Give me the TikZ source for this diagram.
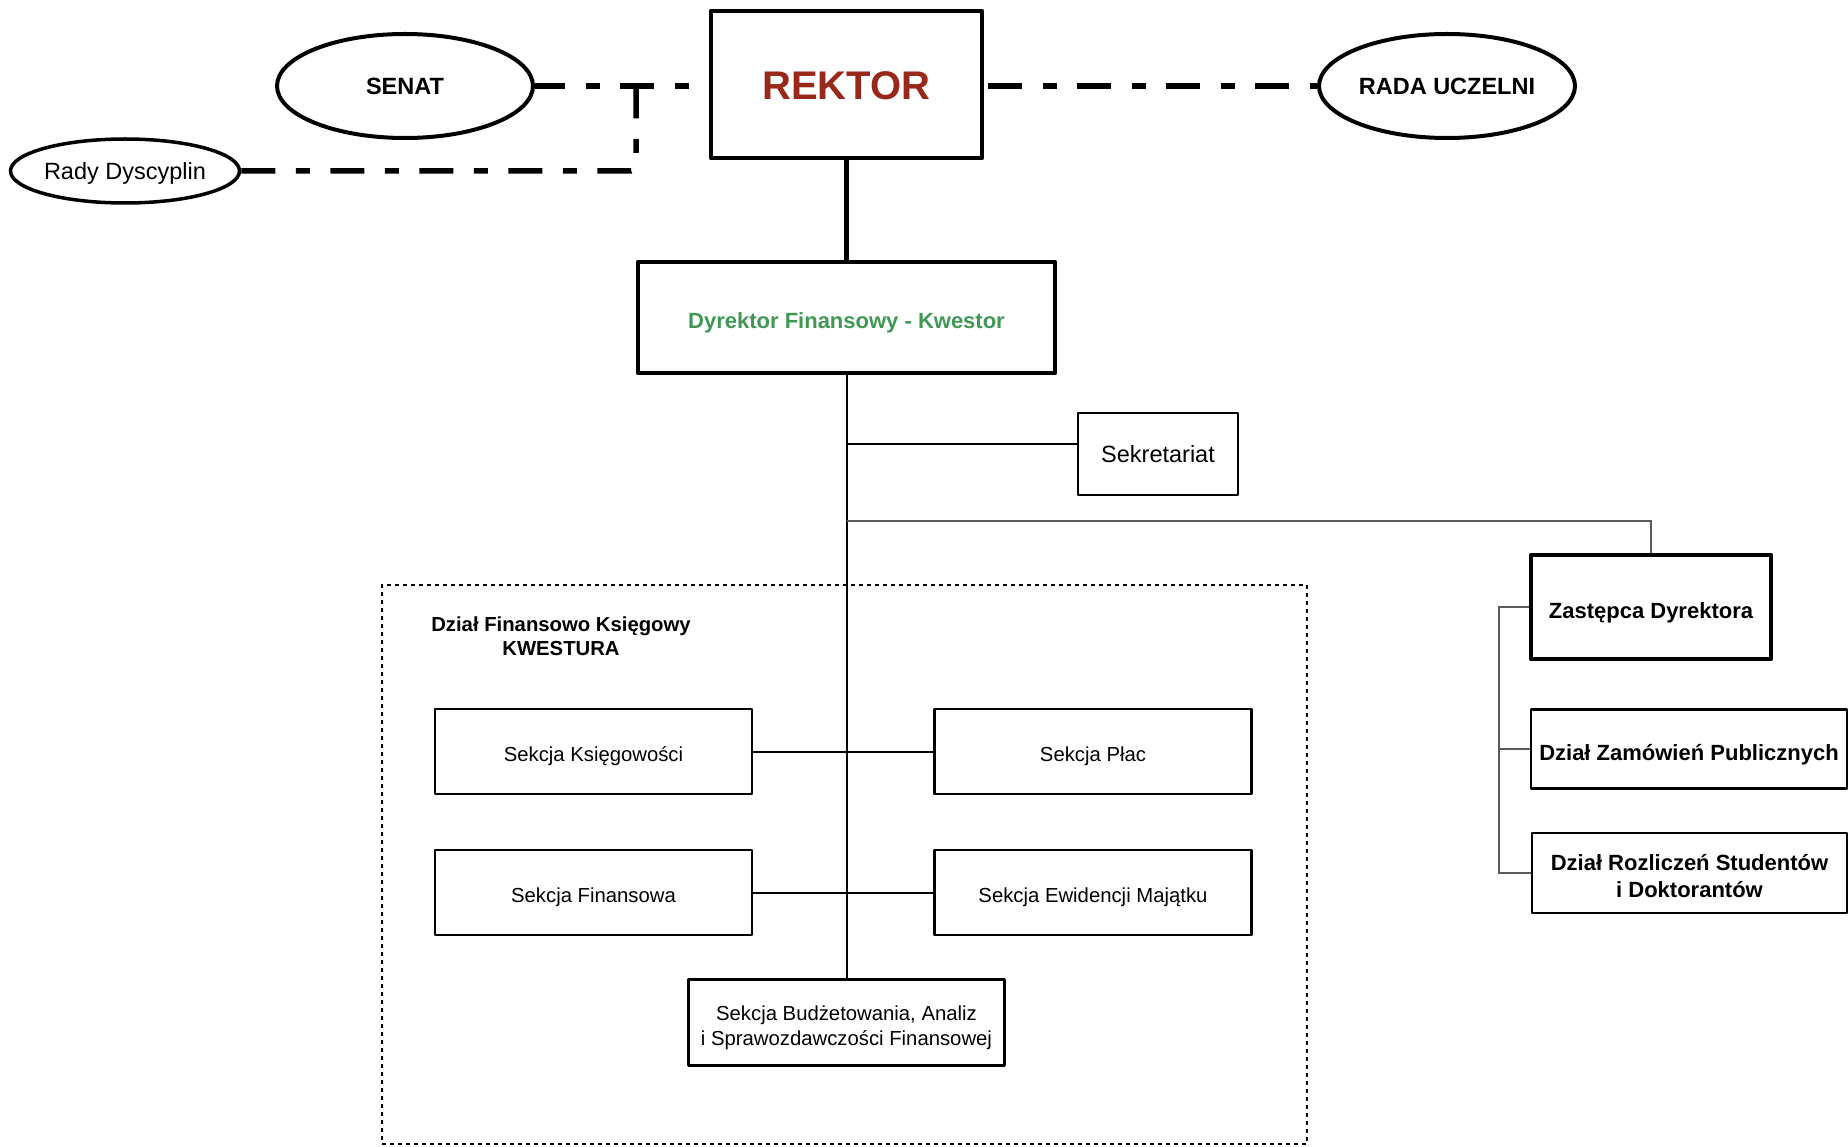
\documentclass[tikz,border=0pt]{standalone}
\usepackage{fontspec}
\setmainfont{Liberation Sans}
\usetikzlibrary{shapes.geometric}
\definecolor{rektorred}{RGB}{152,40,26}
\definecolor{kwestorgreen}{RGB}{64,152,84}
\definecolor{linkgray}{RGB}{90,90,90}
\newcommand\setsz[2]{\fontsize{#1}{#2}\selectfont}
\begin{document}
\begin{tikzpicture}[x=1pt,y=-1pt,
  every node/.style={inner sep=0pt, align=center, text depth=0pt},
  bigbox/.style={draw, rectangle, line width=4.5pt, line join=round, text height=22pt},
  smallbox/.style={draw, rectangle, line width=2.6pt, line join=round, text height=22pt},
  oval/.style={draw, ellipse, line width=4pt},
  sekcja/.style={smallbox, minimum width=317pt, minimum height=85pt, font=\setsz{20.3}{25}, text height=20pt},
  dashdot/.style={line width=5.5pt, dash pattern=on 34pt off 20.5pt on 14pt off 20.5pt},
  trunk/.style={line width=2pt},
  branch/.style={line width=2pt, draw=linkgray},
]
\useasboundingbox (0,0) rectangle (1848,1147);

% governing bodies
\node[oval, minimum width=256pt, minimum height=104pt, font=\bfseries\setsz{23.5}{28}] (senat) at (405,86) {SENAT};
\node[oval, line width=3.5pt, minimum width=220pt, minimum height=64pt, font=\setsz{23.5}{28}] (rady) at (125,171) {Rady Dyscyplin};
\node[oval, minimum width=256pt, minimum height=104pt, font=\bfseries\setsz{23.5}{28}] (rada) at (1447,86) {RADA UCZELNI};
\node[bigbox, text height=30pt, minimum width=271pt, minimum height=147pt, font=\bfseries\setsz{40}{46}, text=rektorred] (rektor) at (846.5,84.5) {REKTOR};

% finance director and staff
\node[bigbox, minimum width=417pt, minimum height=111pt, font=\bfseries\setsz{22}{26}, text=kwestorgreen] (dyr) at (846.5,317.5) {Dyrektor Finansowy - Kwestor};
\node[smallbox, text height=18pt, minimum width=160pt, minimum height=82pt, font=\setsz{23.5}{28}] (sek) at (1158,454) {Sekretariat};

% deputy director's units
\node[bigbox, minimum width=240pt, minimum height=104pt, font=\bfseries\setsz{22}{26}] (zast) at (1651,607) {Zastępca Dyrektora};
\node[smallbox, minimum width=316pt, minimum height=79pt, font=\bfseries\setsz{22}{26}] (zam) at (1689,749) {Dział Zamówień Publicznych};
\node[smallbox, text height=49pt, minimum width=315pt, minimum height=80pt, font=\bfseries\setsz{22}{27}] (rozl) at (1689.5,873) {Dział Rozliczeń Studentów\\i Doktorantów};

% KWESTURA department
\node[draw, rectangle, line width=1.8pt, dash pattern=on 4pt off 4pt, minimum width=925pt, minimum height=559pt] (kw) at (844.5,864.5) {};
\node[font=\bfseries\setsz{20.3}{24}] (kwt) at (561,636) {Dział Finansowo Księgowy\\KWESTURA};
\node[sekcja] (ksieg) at (593.5,751.5) {Sekcja Księgowości};
\node[sekcja] (plac) at (1093,751.5) {Sekcja Płac};
\node[sekcja] (fin) at (593.5,892.5) {Sekcja Finansowa};
\node[sekcja] (ewid) at (1093,892.5) {Sekcja Ewidencji Majątku};
\node[sekcja, text height=46pt, minimum width=316pt, minimum height=86pt] (budz) at (846.5,1022.5) {Sekcja Budżetowania, Analiz\\i Sprawozdawczości Finansowej};

% junction points
\coordinate (jT) at (636,86);
\coordinate (jSek) at (846.5,444);
\coordinate (jZ) at (846.5,521);
\coordinate (bx) at (1499,0);

% advisory links
\draw[dashdot, dash phase=4pt] (senat.east) -- (senat.east -| rektor.west);
\draw[dashdot, rounded corners=5pt] (rady.east) -| (jT);
\draw[dashdot, dash phase=85pt] (rada.west -| rektor.east) -- (rada.west);

% reporting lines
\draw[line width=4.5pt] (rektor.south) -- (dyr.north);
\draw[trunk] (dyr.south) -- (budz.north);
\draw[trunk] (jSek) -- (jSek -| sek.west);
\draw[branch] (jZ) -| (zast.north);
\draw[trunk] (ksieg.east) -- (plac.west);
\draw[trunk] (fin.east) -- (ewid.west);
\draw[branch] (zast.west) -- (zast.west -| bx) |- (rozl.west);
\draw[branch] (zam.west) -- (zam.west -| bx);
\end{tikzpicture}
\end{document}
